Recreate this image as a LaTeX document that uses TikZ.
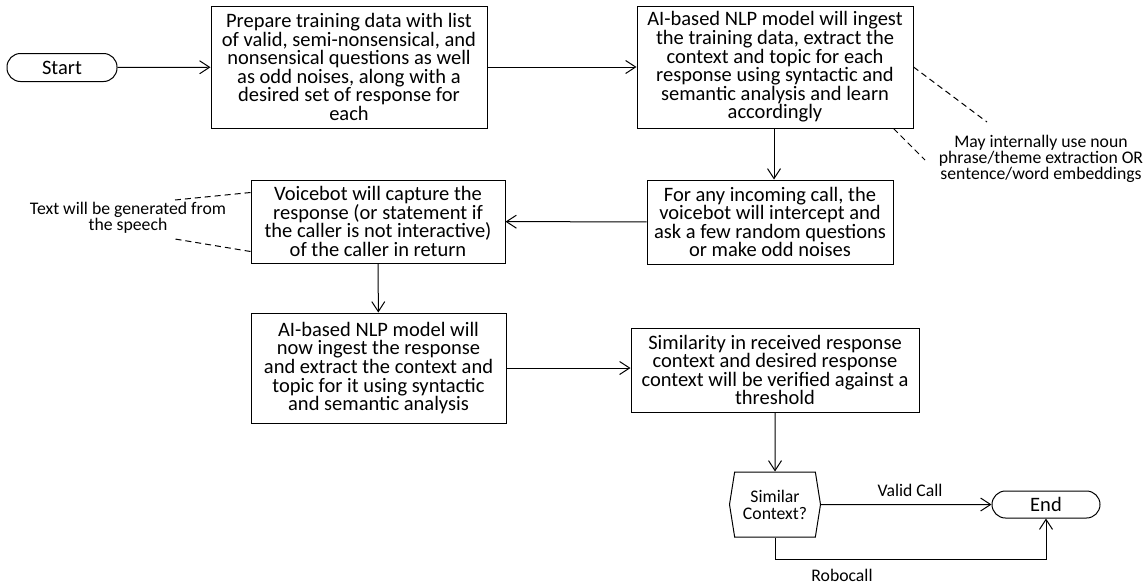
\documentclass[tikz,border=0pt]{standalone}
\usepackage{fontspec}
\setmainfont{Carlito}
\usetikzlibrary{arrows.meta,shapes.symbols}

\tikzset{
  procbox/.style={draw, align=center, inner sep=0pt, font=\fontsize{20.5}{18.6}\selectfont},
  termbox/.style={draw, rounded corners=13.5pt, minimum width=110pt, minimum height=28pt, inner sep=0pt, font=\fontsize{20.5}{18.6}\selectfont},
  decbox/.style={draw, shape=signal, signal to=west and east, signal pointer angle=162, minimum width=91pt, minimum height=65pt, inner sep=0pt, align=center, font=\fontsize{17.7}{17}\selectfont},
  notetext/.style={align=center, inner sep=0pt, font=\fontsize{17.7}{14.5}\selectfont},
  notelink/.style={dash pattern=on 6pt off 4pt}
}

\begin{document}
\begin{tikzpicture}[x=1pt, y=-1pt, line width=1pt, >={Straight Barb[length=10pt,width=13pt]}]
        \useasboundingbox (0,0) rectangle (1148,584);

        \node[termbox] (start) at (62,67.5) {Start};
        \node[procbox, minimum width=276pt, minimum height=122pt] (prep) at (349,67) {Prepare training data with list\\of valid, semi-nonsensical, and\\nonsensical questions as well\\as odd noises, along with a\\desired set of response for\\each};
        \node[procbox, minimum width=276pt, minimum height=122pt] (ingest) at (775,67) {AI-based NLP model will ingest\\the training data, extract the\\context and topic for each\\response using syntactic and\\semantic analysis and learn\\accordingly};
        \node[notetext] (note_ingest) at (1041,159) {May internally use noun\\phrase/theme extraction OR\\sentence/word embeddings};

        \node[procbox, minimum width=246pt, minimum height=84pt] (intercept) at (770,222) {For any incoming call, the\\voicebot will intercept and\\ask a few random questions\\or make odd noises};
        \node[procbox, minimum width=254pt, minimum height=83pt] (capture) at (378,221.5) {Voicebot will capture the\\response (or statement if\\the caller is not interactive)\\of the caller in return};
        \node[notetext] (note_capture) at (128,218) {Text will be generated from\\the speech};

        \node[procbox, minimum width=255pt, minimum height=110pt] (analyse) at (378.5,368) {AI-based NLP model will\\now ingest the response\\and extract the context and\\topic for it using syntactic\\and semantic analysis};
        \node[procbox, minimum width=288pt, minimum height=84pt] (verify) at (775,370) {Similarity in received response\\context and desired response\\context will be verified against a\\threshold};

        \node[decbox] (check) at (775,504.5) {Similar\\Context?};
        \node[termbox, minimum width=108pt, minimum height=27pt] (finish) at (1046,504.5) {End};
        \node[notetext] (valid_lbl) at (910,490) {Valid Call};
        \node[notetext] (robo_lbl) at (842,575) {Robocall};

        \coordinate (nA_1) at (987,122);
        \coordinate (nA_2) at (925,160);
        \coordinate (nB_1) at (175,200);
        \coordinate (nB_2) at (175,239);

        \draw[->] (start) -- (prep);
        \draw[->] (prep) -- (ingest);
        \draw[->] (ingest.south -| 774,0) -- (intercept.north -| 774,0);
        \draw[->] (intercept) -- (capture);
        \draw[->] (capture) -- (analyse);
        \draw[->] (analyse.east) -- (analyse.east -| verify.west);
        \draw[->] (verify) -- (check);
        \draw[->] (check) -- (finish);
        \draw[->] (check.south) -- ++(0,22) -| (finish.south);

        \draw[notelink] (ingest.east) -- (nA_1);
        \draw[notelink] ([xshift=-20pt]ingest.south east) -- (nA_2);
        \draw[notelink] ([yshift=-13pt]capture.north west) -- (nB_1);
        \draw[notelink] ([yshift=12pt]capture.south west) -- (nB_2);
    \end{tikzpicture}
\end{document}
